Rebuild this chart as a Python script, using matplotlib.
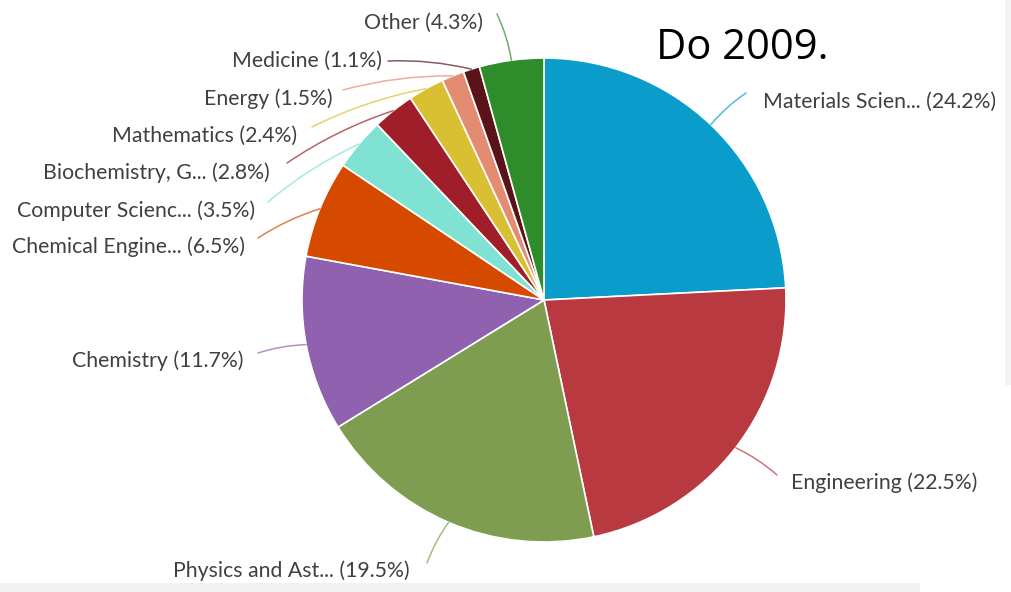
import numpy as np
import matplotlib
matplotlib.use("Agg")
import matplotlib.pyplot as plt
from matplotlib.patches import Rectangle

# subject areas, share of documents (%)
areas = ["Materials Scien...", "Engineering", "Physics and Ast...", "Chemistry",
         "Chemical Engine...", "Computer Scienc...", "Biochemistry, G...",
         "Mathematics", "Energy", "Medicine", "Other"]
shares = [24.2, 22.5, 19.5, 11.7, 6.5, 3.5, 2.8, 2.4, 1.5, 1.1, 4.3]
colors = ["#0a9dcb", "#b8393f", "#7f9d51", "#9061ae", "#d64a00", "#7fe2d2",
          "#a01e2a", "#d9bf32", "#e38c72", "#5a1319", "#2f8c2a"]

# label anchor (x, y in pixels from top-left), alignment, and where its leader ends
label_pos = [(763, 102, "left"), (791, 483, "left"), (410, 571, "right"),
             (243, 361, "right"), (245, 247, "right"), (255, 211, "right"),
             (270, 173, "right"), (297, 136, "right"), (333, 99, "right"),
             (382, 61, "right"), (483, 23, "right")]
leader_end = [(746, 93), (777, 475), (427, 563), (258, 353), (258, 238),
              (268, 202), (287, 163), (312, 127), (343, 90), (388, 61), (497, 14)]

W, H = 1011, 592
cx, cy, R = 544, 300, 242

fig = plt.figure(figsize=(W / 100, H / 100), dpi=100)
ax = fig.add_axes([0, 0, 1, 1])
ax.set_xlim(0, W)
ax.set_ylim(0, H)
ax.set_aspect("equal")
ax.axis("off")

wedges, _ = ax.pie(shares, colors=colors, center=(cx, H - cy), radius=R,
                   startangle=90, counterclock=False,
                   wedgeprops=dict(edgecolor="white", linewidth=1.2))
ax.set_xlim(0, W)
ax.set_ylim(0, H)

for w, name, val, (tx, ty, ha), (ex, ey), col in zip(wedges, areas, shares,
                                                     label_pos, leader_end, colors):
    mid = np.deg2rad((w.theta1 + w.theta2) / 2)
    px = cx + R * np.cos(mid)
    py = (H - cy) + R * np.sin(mid)
    rad = -0.07 if ha == "right" else 0.07
    ax.annotate("", xy=(px, py), xytext=(ex, H - ey),
                arrowprops=dict(arrowstyle="-", color=col, alpha=0.7, lw=1.1,
                                shrinkA=0, shrinkB=0,
                                connectionstyle="arc3,rad=%s" % rad))
    ax.text(tx, H - ty, "%s (%.1f%%)" % (name, val), ha=ha, va="center",
            fontsize=15.3, family="Lato", color="#404040")

ax.text(656, H - 48, "Do 2009.", ha="left", va="center", fontsize=30,
        family="Open Sans", color="black")

# page strips around the screenshot
ax.add_patch(Rectangle((0, 0), 920, 9, facecolor="#f2f2f2", edgecolor="none"))
ax.add_patch(Rectangle((1005, H - 385), 6, 385, facecolor="#f3f3f3", edgecolor="none"))

fig.savefig("out.png", dpi=100)
